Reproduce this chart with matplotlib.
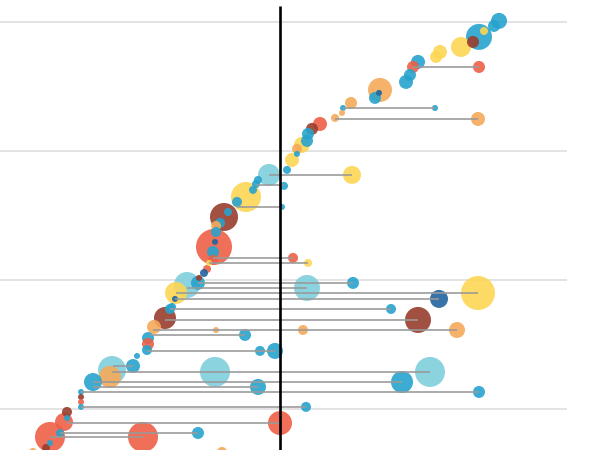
import matplotlib.pyplot as plt

# colour categories
palette = {
    "B": "#27a3cd",   # blue
    "LB": "#7fcfdc",  # light blue
    "Y": "#fdd655",   # yellow
    "O": "#f5aa5a",   # orange
    "R": "#ee5f46",   # red
    "DR": "#983d2d",  # dark red
    "DB": "#1f64a0",  # dark blue
}

# circles: value (x), rank position (y), size, category
pt_x = [54.75, 53.5, 49.75, 51, 48.25, 45.25, 40, 39, 34.5, 33.25, 49.75, 32.5, 31.5,
        25, 24.75, 23.75, 17.75, 15.75, 38.75, 15.5, 13.75, 49.5, 10, 8, 7, 6.75, 5.5,
        4.25, 4.25, 3, 1.75, -2.75, 18, -5.5, 1, -6, -6.75, -8.5, -10.75, 0.5, -13,
        -14, -15, -16, -16, -16.5, -16.25, -16.75, -16.75, 3.25, -17.75, 7, -18.25,
        -19, -20.25, -20.5, 18.25, -23.25, 6.75, -26, 49.5, -26.25, 39.75, -27, -27.5,
        27.75, -28.75, 34.5, -31.5, -16, 5.75, 44.25, -33, -8.75, -33, -33.25, -5,
        -1.25, -35.75, -36.75, -42, -16.25, 37.5, -42.5, -46.75, 30.5, -5.5, -49.75,
        49.75, -49.75, -49.75, -49.75, 6.5, -53.25, -53.25, -54, 0, -55, -20.5, -57.5,
        -34.25, -57.5, -58.5, -61.75, -14.5]
pt_y = [30.08, 29.69, 28.84, 29.30, 28.45, 28.06, 27.67, 27.29, 26.90, 26.51, 26.51,
        25.89, 25.35, 24.73, 24.50, 24.11, 23.72, 23.33, 23.33, 22.95, 22.56, 22.48,
        22.09, 21.71, 21.32, 20.78, 20.47, 20.16, 19.77, 19.30, 18.53, 18.14, 18.14,
        17.75, 17.29, 17.44, 16.98, 16.43, 16.05, 15.66, 15.27, 14.88, 14.42, 14.19,
        13.72, 12.56, 12.95, 12.17, 11.55, 11.71, 11.32, 11.32, 10.85, 10.54, 10.16,
        9.77, 9.77, 9.61, 9.38, 8.99, 8.99, 8.53, 8.53, 7.91, 7.75, 7.75, 7.05, 6.90,
        6.36, 6.12, 6.12, 6.12, 5.50, 5.74, 5.04, 4.57, 4.50, 4.50, 4.11, 3.33, 3.02,
        2.87, 2.87, 2.48, 2.09, 2.09, 1.71, 1.32, 1.32, 0.93, 0.54, 0.16, 0.16, -0.23,
        -0.70, -1.01, -1.09, -1.86, -1.86, -2.17, -2.17, -2.64, -3.02, -3.33, -3.33]
pt_size = [8, 6, 13, 4, 6, 10, 7, 6, 7, 6, 6, 6, 7, 12, 3, 6, 6, 3, 3, 3, 4, 7, 7, 6,
           6, 6, 8, 5, 3, 7, 4, 11, 9, 4, 4, 4, 4, 15, 5, 3, 4, 14, 5, 5, 5, 18, 3, 6,
           5, 5, 3, 4, 4, 4, 3, 7, 6, 13, 13, 11, 17, 3, 9, 4, 5, 5, 11, 13, 7, 3, 5, 8,
           6, 6, 6, 5, 5, 8, 3, 7, 14, 15, 15, 11, 9, 11, 8, 3, 6, 3, 3, 3, 5, 5, 3, 9,
           12, 4, 6, 15, 15, 3, 4, 4, 5]
pt_cat = ["B", "B", "B", "Y", "DR", "Y", "Y", "Y", "B", "R", "R", "B", "B", "O", "DB",
          "B", "O", "B", "B", "O", "O", "O", "R", "DR", "B", "B", "Y", "O", "B", "Y",
          "B", "LB", "Y", "B", "B", "B", "B", "Y", "B", "B", "B", "DR", "B", "O", "B",
          "R", "DB", "B", "R", "R", "Y", "Y", "R", "DB", "DR", "B", "B", "LB", "LB",
          "Y", "Y", "DB", "DB", "B", "B", "B", "DR", "DR", "O", "O", "O", "O", "B",
          "B", "R", "B", "B", "B", "B", "B", "LB", "LB", "LB", "O", "B", "B", "B", "B",
          "B", "DR", "R", "B", "B", "DR", "B", "R", "R", "B", "B", "R", "R", "B", "DR",
          "O", "O"]

# connecting segments: rank position, start value, end value
seg_y = [26.51, 23.33, 22.48, 18.14, 17.36, 15.66, 11.71, 11.32, 9.77, 9.38, 8.99,
         8.53, 7.75, 6.90, 6.12, 5.74, 4.50, 3.33, 2.87, 2.09, 1.71, 1.32, 0.16, -1.09,
         -1.86, -2.17]
seg_x0 = [33.25, 15.75, 13.75, -2.75, -5.75, -10.75, -16.75, -17.75, -20.5, -23.25,
          -26, -26.25, -27.5, -28.75, -31.75, -32.5, -33.25, -41.75, -42, -46.75,
          -46.75, -49.75, -49.75, -53.25, -55, -57.5]
seg_x1 = [49.75, 38.75, 49.5, 18, 1, 0.5, 3.25, 7, 18.25, 6.75, 49.5, 39.75, 27.75,
          34.5, 44.25, -8.75, -1.25, -36.75, 37.5, 30.5, -5.5, 49.75, 6.5, 0, -20.5,
          -34.25]

grid_vals = [0, 10, 20, 30]

fig = plt.figure(figsize=(6, 4.5), dpi=100)
ax = fig.add_axes([0, 0, 1, 1])
ax.set_xlim(-70, 80)
ax.set_ylim(-3.18, 31.7)
ax.axis("off")

ax.hlines(grid_vals, -70, 71.75, color="#e0e0e0", lw=1.3, zorder=0)

order = sorted(range(len(pt_x)), key=lambda i: -pt_size[i])
ax.scatter([pt_x[i] for i in order], [pt_y[i] for i in order],
           s=[(1.44 * pt_size[i]) ** 2 for i in order],
           c=[palette[pt_cat[i]] for i in order], alpha=0.9, linewidths=0, zorder=2)

ax.hlines(seg_y, seg_x0, seg_x1, color="#9a9a9a", lw=1.3, alpha=0.9, zorder=3)

ax.vlines([0], -3.5, 31.24, color="black", lw=1.9, zorder=4)

fig.savefig("out.png", dpi=100)
